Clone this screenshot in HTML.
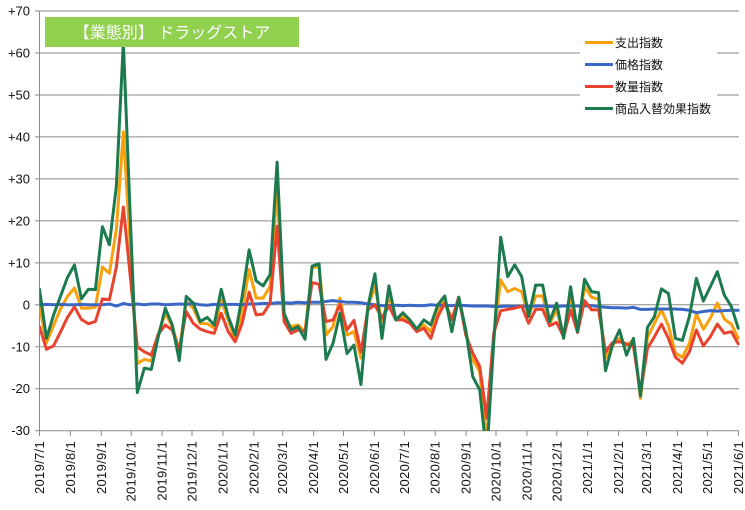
<!DOCTYPE html>
<html><head><meta charset="utf-8"><style>
html,body{margin:0;padding:0;background:#fff;}
svg{display:block;}
.yl{font-family:"Liberation Sans","DejaVu Sans",sans-serif;font-size:13px;fill:#111;text-anchor:end;}
.xl{font-family:"Liberation Sans","DejaVu Sans",sans-serif;font-size:13px;fill:#111;text-anchor:end;letter-spacing:0.3px;}
.lg{font-family:"Liberation Sans","Noto Sans CJK JP",sans-serif;font-size:12px;fill:#111;}
</style></head><body>
<svg width="745" height="510" viewBox="0 0 745 510" xmlns="http://www.w3.org/2000/svg">
<defs><clipPath id="pa" clipPathUnits="userSpaceOnUse"><rect x="39.5" y="11" width="700" height="420"/></clipPath></defs>
<rect x="0" y="0" width="745" height="510" fill="#fff"/>
<g stroke="#8a8a8a" stroke-width="1" fill="none">
<line x1="35" y1="11" x2="739" y2="11"/>
<line x1="35" y1="52.97" x2="739" y2="52.97"/>
<line x1="35" y1="94.94" x2="739" y2="94.94"/>
<line x1="35" y1="136.91" x2="739" y2="136.91"/>
<line x1="35" y1="178.88" x2="739" y2="178.88"/>
<line x1="35" y1="220.85" x2="739" y2="220.85"/>
<line x1="35" y1="262.82" x2="739" y2="262.82"/>
<line x1="35" y1="304.79" x2="739" y2="304.79"/>
<line x1="35" y1="346.76" x2="739" y2="346.76"/>
<line x1="35" y1="388.73" x2="739" y2="388.73"/>
<line x1="35" y1="430.7" x2="739" y2="430.7"/>
<line x1="39.5" y1="11" x2="39.5" y2="436"/>
<line x1="70.4" y1="430.7" x2="70.4" y2="436"/>
<line x1="101.3" y1="430.7" x2="101.3" y2="436"/>
<line x1="131.2" y1="430.7" x2="131.2" y2="436"/>
<line x1="162.1" y1="430.7" x2="162.1" y2="436"/>
<line x1="192" y1="430.7" x2="192" y2="436"/>
<line x1="222.9" y1="430.7" x2="222.9" y2="436"/>
<line x1="253.8" y1="430.7" x2="253.8" y2="436"/>
<line x1="282.7" y1="430.7" x2="282.7" y2="436"/>
<line x1="313.6" y1="430.7" x2="313.6" y2="436"/>
<line x1="343.5" y1="430.7" x2="343.5" y2="436"/>
<line x1="374.4" y1="430.7" x2="374.4" y2="436"/>
<line x1="404.3" y1="430.7" x2="404.3" y2="436"/>
<line x1="435.2" y1="430.7" x2="435.2" y2="436"/>
<line x1="466.1" y1="430.7" x2="466.1" y2="436"/>
<line x1="496" y1="430.7" x2="496" y2="436"/>
<line x1="526.9" y1="430.7" x2="526.9" y2="436"/>
<line x1="556.8" y1="430.7" x2="556.8" y2="436"/>
<line x1="587.7" y1="430.7" x2="587.7" y2="436"/>
<line x1="618.6" y1="430.7" x2="618.6" y2="436"/>
<line x1="646.5" y1="430.7" x2="646.5" y2="436"/>
<line x1="677.4" y1="430.7" x2="677.4" y2="436"/>
<line x1="707.4" y1="430.7" x2="707.4" y2="436"/>
<line x1="738.3" y1="430.7" x2="738.3" y2="436"/>
</g>
<g class="yl">
<text x="30" y="15.5">+70</text>
<text x="30" y="57.5">+60</text>
<text x="30" y="99.4">+50</text>
<text x="30" y="141.4">+40</text>
<text x="30" y="183.4">+30</text>
<text x="30" y="225.3">+20</text>
<text x="30" y="267.3">+10</text>
<text x="30" y="309.3">0</text>
<text x="30" y="351.3">-10</text>
<text x="30" y="393.2">-20</text>
<text x="30" y="435.2">-30</text>
</g>
<g class="xl">
<text transform="translate(44,441) rotate(-90)">2019/7/1</text>
<text transform="translate(74.9,441) rotate(-90)">2019/8/1</text>
<text transform="translate(105.8,441) rotate(-90)">2019/9/1</text>
<text transform="translate(135.7,441) rotate(-90)">2019/10/1</text>
<text transform="translate(166.6,441) rotate(-90)">2019/11/1</text>
<text transform="translate(196.5,441) rotate(-90)">2019/12/1</text>
<text transform="translate(227.4,441) rotate(-90)">2020/1/1</text>
<text transform="translate(258.3,441) rotate(-90)">2020/2/1</text>
<text transform="translate(287.2,441) rotate(-90)">2020/3/1</text>
<text transform="translate(318.1,441) rotate(-90)">2020/4/1</text>
<text transform="translate(348,441) rotate(-90)">2020/5/1</text>
<text transform="translate(378.9,441) rotate(-90)">2020/6/1</text>
<text transform="translate(408.8,441) rotate(-90)">2020/7/1</text>
<text transform="translate(439.7,441) rotate(-90)">2020/8/1</text>
<text transform="translate(470.6,441) rotate(-90)">2020/9/1</text>
<text transform="translate(500.5,441) rotate(-90)">2020/10/1</text>
<text transform="translate(531.4,441) rotate(-90)">2020/11/1</text>
<text transform="translate(561.3,441) rotate(-90)">2020/12/1</text>
<text transform="translate(592.2,441) rotate(-90)">2021/1/1</text>
<text transform="translate(623.1,441) rotate(-90)">2021/2/1</text>
<text transform="translate(651,441) rotate(-90)">2021/3/1</text>
<text transform="translate(681.9,441) rotate(-90)">2021/4/1</text>
<text transform="translate(711.9,441) rotate(-90)">2021/5/1</text>
<text transform="translate(742.8,441) rotate(-90)">2021/6/1</text>
</g>
<g clip-path="url(#pa)">
<g transform="translate(39.5,304.79) scale(6.988,-4.197)" fill="none" stroke-linejoin="round" stroke-linecap="round">
<polyline vector-effect="non-scaling-stroke" stroke="#F9A00C" stroke-width="3" points="0,-0.4 1,-9 2,-5 3,-1 4,2 5,4 6,-0.8 7,-0.8 8,-0.6 9,9 10,7.5 11,18 12,41.2 13,13.5 14,-14 15,-13 16,-13.4 17,-7 18,-2 19,-5.2 20,-10.8 21,0.8 22,-0.8 23,-4.5 24,-4.5 25,-5.6 26,1.2 27,-3.6 28,-8.4 29,-1.2 30,8.4 31,1.6 32,1.6 33,4.4 34,27.5 35,-3.6 36,-5.2 37,-4.8 38,-6.4 39,8.8 40,9.2 41,-7.2 42,-5.2 43,1.6 44,-7.2 45,-6.4 46,-12.7 47,-0.4 48,4.3 49,-4 50,2 51,-3.6 52,-2.8 53,-4 54,-6 55,-4.8 56,-6.4 57,-1.2 58,1.2 59,-3.6 60,1.8 61,-6.4 62,-13.1 63,-15.9 64,-33 65,-7.5 66,5.9 67,3.1 68,3.9 69,3.1 70,-2.8 71,2.1 72,2.1 73,-4.5 74,-1.2 75,-7.2 76,2.3 77,-6 78,4.3 79,1.8 80,1.3 81,-12.7 82,-9.6 83,-8 84,-9.6 85,-8.4 86,-22.3 87,-7.8 88,-4.4 89,-1.2 90,-5 91,-11.5 92,-12.5 93,-9.2 94,-2.2 95,-5.8 96,-3.2 97,0.4 98,-3.4 99,-4.6 100,-8"/>
<polyline vector-effect="non-scaling-stroke" stroke="#3A66C6" stroke-width="3" points="0,0 1,0.1 2,0 3,0.1 4,0 5,0 6,0.1 7,0 8,0 9,0 10,0.2 11,-0.3 12,0.3 13,0 14,0.2 15,0 16,0.2 17,0.2 18,0 19,0.1 20,0.2 21,0.1 22,0.3 23,0 24,-0.1 25,0.1 26,0 27,0.1 28,0.1 29,0 30,0.2 31,0.2 32,0.3 33,0.3 34,0.5 35,0.5 36,0.4 37,0.6 38,0.5 39,0.6 40,0.6 41,0.8 42,1 43,0.8 44,0.6 45,0.6 46,0.5 47,0.2 48,0 49,-0.2 50,-0.2 51,-0.1 52,-0.2 53,-0.1 54,-0.2 55,-0.2 56,0 57,-0.1 58,-0.2 59,-0.2 60,-0.1 61,-0.2 62,-0.3 63,-0.3 64,-0.3 65,-0.4 66,-0.4 67,-0.3 68,-0.4 69,-0.3 70,-0.4 71,-0.3 72,-0.3 73,-0.4 74,-0.4 75,-0.3 76,-0.3 77,-0.3 78,-0.3 79,-0.2 80,-0.4 81,-0.6 82,-0.7 83,-0.7 84,-0.8 85,-0.6 86,-1.1 87,-1.1 88,-1 89,-1 90,-1 91,-1 92,-1.1 93,-1.3 94,-1.9 95,-1.6 96,-1.4 97,-1.5 98,-1.4 99,-1.3 100,-1.3"/>
<polyline vector-effect="non-scaling-stroke" stroke="#E8432F" stroke-width="3" points="0,-5.2 1,-10.6 2,-9.8 3,-6.5 4,-3 5,-0.5 6,-3.5 7,-4.5 8,-4 9,1.4 10,1.2 11,9 12,23.3 13,6.6 14,-10.1 15,-11.2 16,-12 17,-7 18,-4.8 19,-6 20,-10.8 21,-1.6 22,-4.4 23,-5.8 24,-6.4 25,-6.8 26,-2 27,-6.4 28,-8.8 29,-4.4 30,3 31,-2.4 32,-2.2 33,0.4 34,18.7 35,-4 36,-6.8 37,-6 38,-6.4 39,5.3 40,4.9 41,-4 42,-3.6 43,0 44,-6 45,-3.7 46,-11.2 47,-1.2 48,0 49,-3.2 50,-0.3 51,-3.6 52,-3.6 53,-4.4 54,-6.4 55,-5.6 56,-8 57,-2.8 58,0.4 59,-3.6 60,1.8 61,-7.2 62,-11.5 63,-14.7 64,-27 65,-6.8 66,-1.4 67,-1.1 68,-0.8 69,-0.3 70,-4.4 71,-1.1 72,-1.1 73,-5 74,-4.2 75,-7.6 76,-1.2 77,-6.6 78,1 79,-1.2 80,-1.2 81,-11.2 82,-9 83,-8.8 84,-9.3 85,-10 86,-21 87,-10.4 88,-7.6 89,-4.6 90,-8 91,-12.5 92,-13.9 93,-11.2 94,-6 95,-9.8 96,-7.6 97,-4.6 98,-6.8 99,-6.4 100,-9.3"/>
<polyline vector-effect="non-scaling-stroke" stroke="#1D7A4E" stroke-width="3" points="0,3.7 1,-8 2,-2.5 3,2 4,6.5 5,9.5 6,1.4 7,3.7 8,3.6 9,18.6 10,14.3 11,28.3 12,62.5 13,20.5 14,-20.9 15,-15.1 16,-15.4 17,-7.6 18,-0.8 19,-4.8 20,-13.3 21,2 22,0.4 23,-4 24,-3 25,-4.8 26,3.7 27,-2.8 28,-7.2 29,2 30,13.1 31,5.7 32,4.5 33,7.2 34,34 35,-2 36,-6 37,-5.2 38,-8.2 39,9.2 40,9.8 41,-13 42,-9.2 43,-2 44,-11.6 45,-9.6 46,-19 47,-0.4 48,7.4 49,-8 50,4.5 51,-3.6 52,-1.9 53,-3.6 54,-5.8 55,-3.6 56,-4.8 57,0 58,2.1 59,-6.4 60,1.8 61,-6 62,-17.1 63,-20.3 64,-36 65,-9 66,16.1 67,6.7 68,9.5 69,6.7 70,-2.8 71,4.7 72,4.7 73,-4 74,0.4 75,-8 76,4.3 77,-6.4 78,6.1 79,3.1 80,2.9 81,-15.7 82,-9.6 83,-6 84,-12 85,-8 86,-21.7 87,-5.4 88,-2.8 89,3.8 90,2.7 91,-8 92,-8.5 93,-2.8 94,6.3 95,0.9 96,4.3 97,7.9 98,2.3 99,-0.4 100,-5.6"/>
</g>
</g>
<rect x="45" y="17" width="254" height="30" fill="#92D050"/>
<text x="172" y="38" text-anchor="middle" font-family="'Liberation Sans','Noto Sans CJK JP',sans-serif" font-size="16" fill="#fff">【業態別】 ドラッグストア</text>
<rect x="580" y="27" width="137" height="92" fill="#fff"/>
<g stroke-width="3">
<line x1="585" y1="42.5" x2="613" y2="42.5" stroke="#F9A00C"/>
<line x1="585" y1="64.5" x2="613" y2="64.5" stroke="#3A66C6"/>
<line x1="585" y1="86.5" x2="613" y2="86.5" stroke="#E8432F"/>
<line x1="585" y1="108.5" x2="613" y2="108.5" stroke="#1D7A4E"/>
</g>
<g class="lg">
<text x="615" y="47">支出指数</text>
<text x="615" y="69">価格指数</text>
<text x="615" y="91">数量指数</text>
<text x="615" y="113">商品入替効果指数</text>
</g>
</svg>
</body></html>
